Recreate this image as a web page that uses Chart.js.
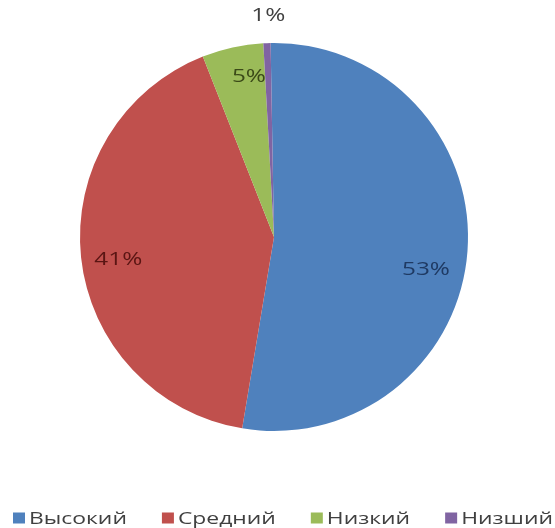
<!DOCTYPE html>
<html>
<head>
<meta charset="utf-8">
<script src="https://cdn.jsdelivr.net/npm/chart.js@4"></script>
<style>
html,body{margin:0;padding:0;background:#fff;}
#wrap{width:555px;height:528px;position:relative;}
</style>
</head>
<body>
<div id="wrap"><canvas id="c" width="555" height="528"></canvas></div>
<script>
const categories = ['Высокий', 'Средний', 'Низкий', 'Низший'];
const shares = [52.9, 41.4, 5.1, 0.6];
const percentLabels = ['53%', '41%', '5%', '1%'];
const sliceColors = ['#4F81BD', '#C0504D', '#9BBB59', '#8064A2'];
const labelColors = ['#1F3A63', '#5A1513', '#3B4A18', '#404040'];
const labelRadius = [0.80, 0.81, 0.84, 1.145];
const labelShiftDeg = [7.5, -1.7, 3.5, 0.6];

const LABEL_FONT = '19px "Open Sans"';
const LEGEND_FONT = '16.5px "Open Sans"';

const labelPlugin = {
  id: 'pieLabels',
  afterDatasetsDraw(chart) {
    const ctx = chart.ctx;
    const meta = chart.getDatasetMeta(0);
    ctx.save();
    ctx.font = LABEL_FONT;
    ctx.textAlign = 'center';
    ctx.textBaseline = 'middle';
    meta.data.forEach((arc, i) => {
      const p = arc.getProps(['x', 'y', 'startAngle', 'endAngle', 'outerRadius'], true);
      const mid = (p.startAngle + p.endAngle) / 2 + labelShiftDeg[i] * Math.PI / 180;
      const r = p.outerRadius * labelRadius[i];
      const x = p.x + Math.cos(mid) * r;
      const y = p.y + Math.sin(mid) * r;
      ctx.save();
      ctx.translate(x, y + 1);
      ctx.scale(1.28, 1);
      ctx.fillStyle = labelColors[i];
      ctx.fillText(percentLabels[i], 0, 0);
      ctx.restore();
    });
    ctx.restore();
  }
};

const legendPlugin = {
  id: 'bottomLegend',
  afterDraw(chart) {
    const ctx = chart.ctx;
    const box = 12, boxGap = 4, itemGap = 35;
    const cy = 518, left = 13, right = 553;
    ctx.save();
    ctx.font = LEGEND_FONT;
    ctx.textBaseline = 'middle';
    const raw = categories.map(t => ctx.measureText(t).width);
    const textSpace = (right - left) - categories.length * (box + boxGap) - itemGap * (categories.length - 1);
    const stretch = textSpace / raw.reduce((a, b) => a + b, 0);
    let x = left;
    categories.forEach((t, i) => {
      ctx.fillStyle = sliceColors[i];
      ctx.fillRect(x, cy - 5.5, box, 11);
      x += box + boxGap;
      ctx.save();
      ctx.translate(x, cy + 1);
      ctx.scale(stretch, 1);
      ctx.fillStyle = '#404040';
      ctx.fillText(t, 0, 0);
      ctx.restore();
      x += raw[i] * stretch + itemGap;
    });
    ctx.restore();
  }
};

function draw() {
  new Chart(document.getElementById('c'), {
    type: 'pie',
    data: {
      labels: categories,
      datasets: [{
        data: shares,
        backgroundColor: sliceColors,
        borderWidth: 0
      }]
    },
    options: {
      responsive: false,
      animation: false,
      rotation: -1,
      layout: { padding: { left: 80, right: 87, top: 43, bottom: 97 } },
      plugins: {
        legend: { display: false },
        tooltip: { enabled: false }
      }
    },
    plugins: [labelPlugin, legendPlugin]
  });
}

Promise.all([
  document.fonts.load(LABEL_FONT, '53%'),
  document.fonts.load(LEGEND_FONT, 'Высокий')
]).then(draw, draw);
</script>
</body>
</html>
